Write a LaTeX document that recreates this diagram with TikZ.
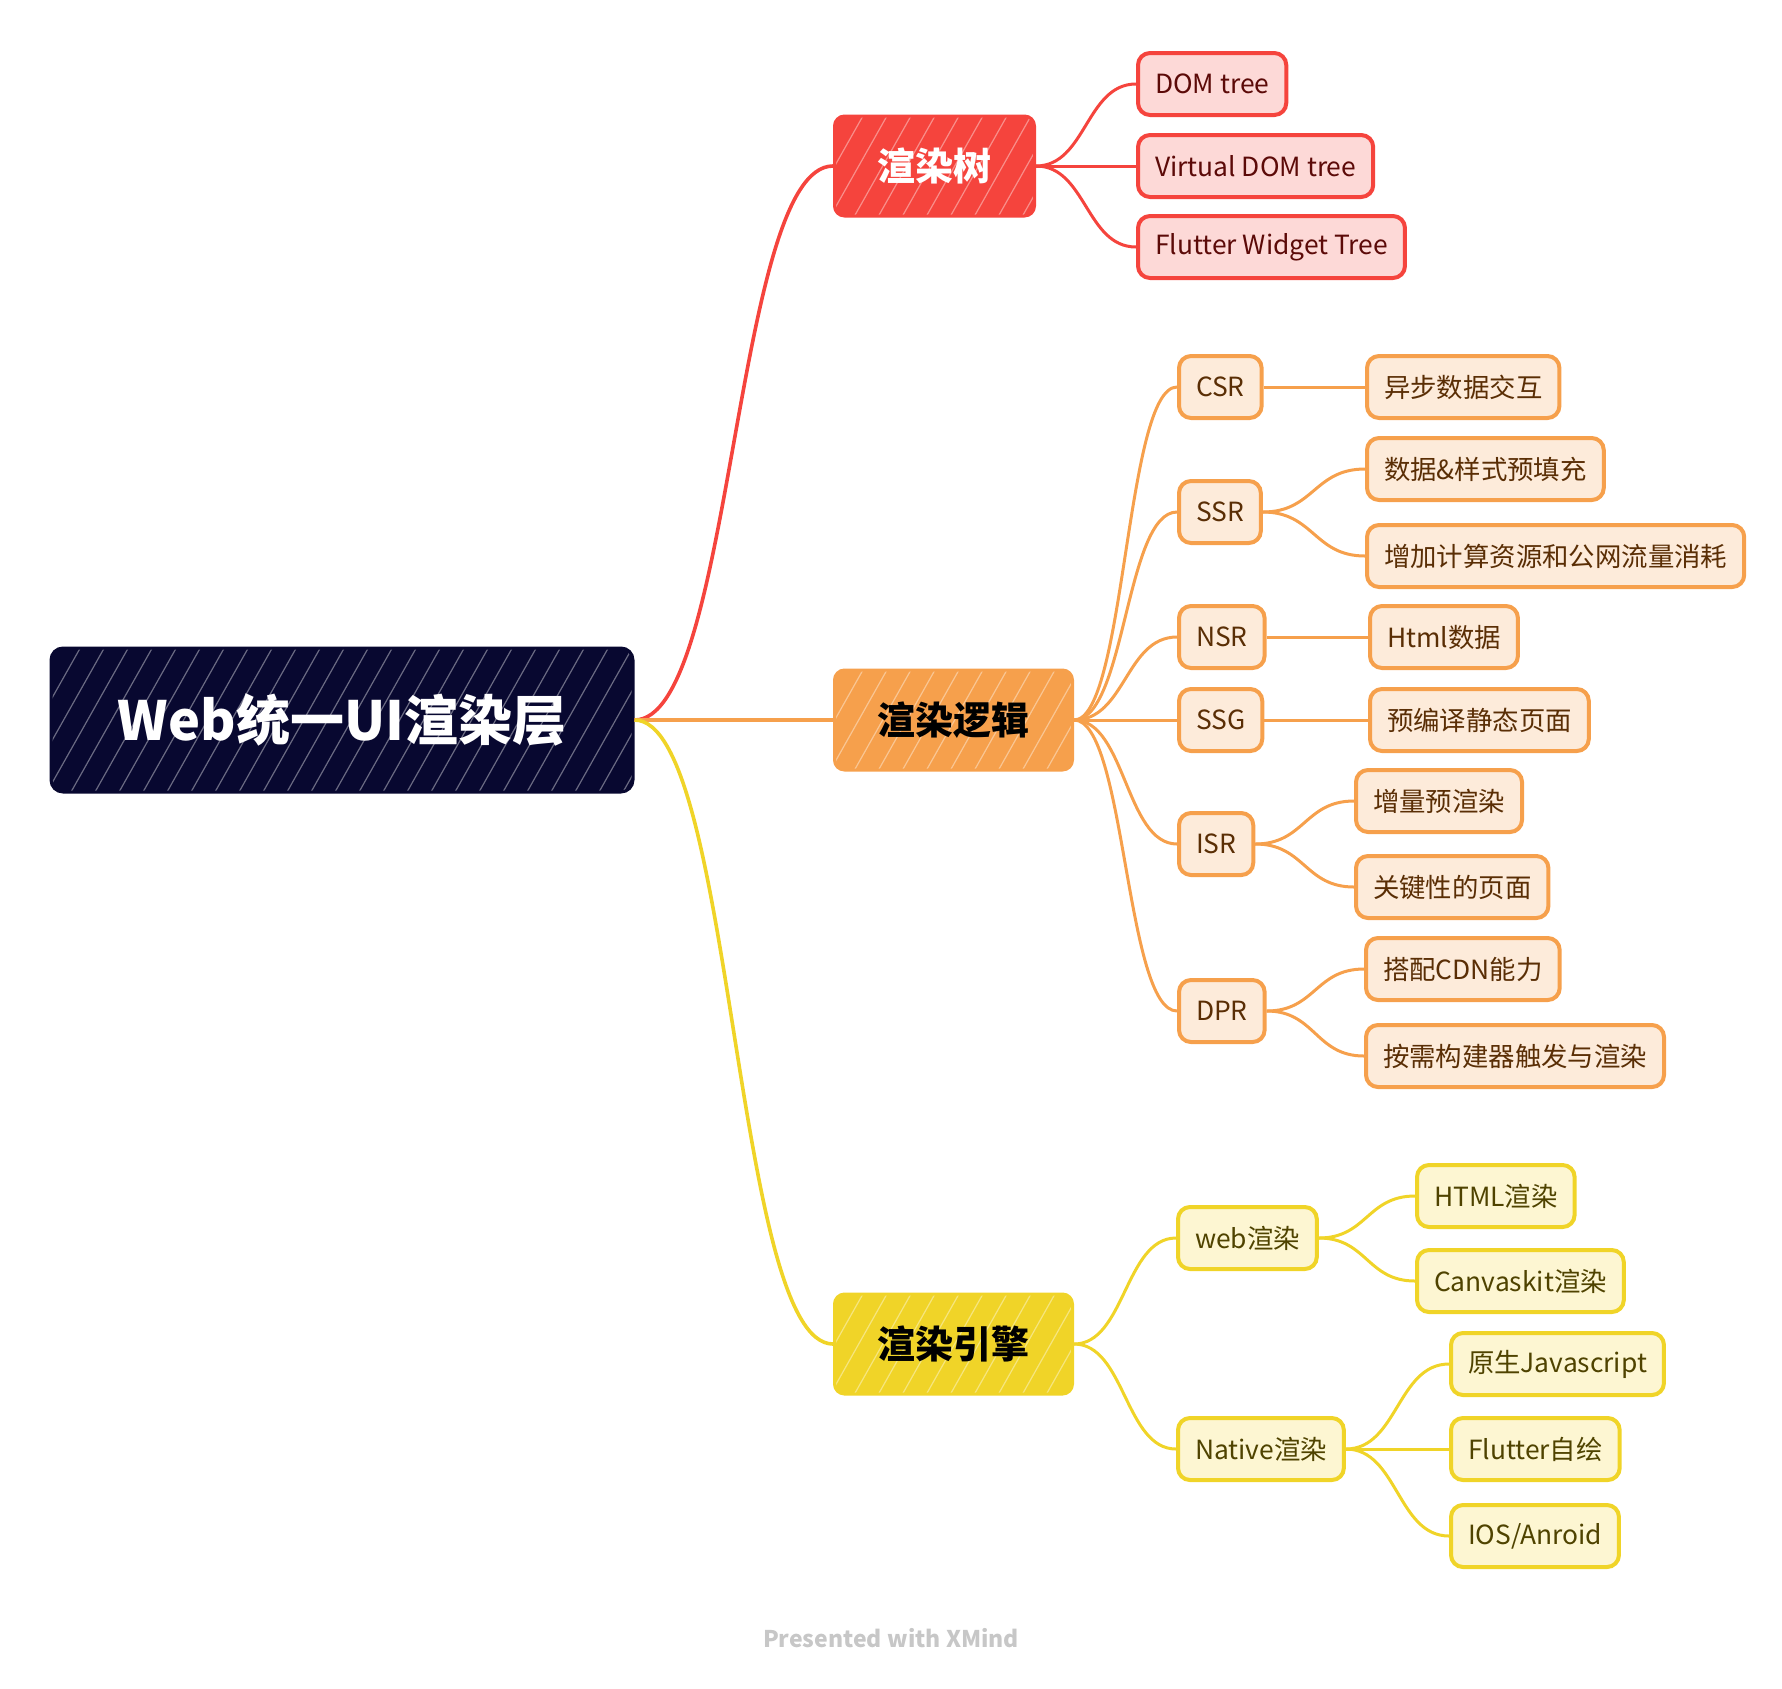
\documentclass[tikz,border=0pt]{standalone}
\usepackage{fontspec}
\setmainfont{Noto Sans CJK SC}
\usepackage{tikz}
\usetikzlibrary{calc}
\definecolor{rootNavy}{HTML}{080830}
\definecolor{treeRed}{HTML}{F5443D}
\definecolor{treeRedLight}{HTML}{FDD9D7}
\definecolor{treeRedDark}{HTML}{5C0A08}
\definecolor{logicOrange}{HTML}{F6A04C}
\definecolor{logicOrangeLight}{HTML}{FDEBDA}
\definecolor{logicOrangeDark}{HTML}{5A2E05}
\definecolor{engineYellow}{HTML}{F0D428}
\definecolor{engineYellowLight}{HTML}{FDF6D2}
\definecolor{engineYellowDark}{HTML}{4F4300}

\begin{document}
\begin{tikzpicture}[x=0.5pt,y=-0.5pt,
  hatch/.style={path picture={\foreach \k in {-50,-38,...,300}
    \draw[white,line width=.6pt,opacity=.4] ([xshift=\k pt]path picture bounding box.south west) -- ++(44pt,78pt);}},
  root/.style={draw=rootNavy,fill=rootNavy,text=white,rounded corners=6pt,line width=1.5pt,hatch,
    minimum width=291pt,minimum height=72pt,font=\fontsize{27}{32}\selectfont\bfseries},
  main/.style={rounded corners=5pt,line width=1.5pt,minimum height=50pt,inner xsep=21.5pt,anchor=west,hatch,
    font=\fontsize{19}{23}\selectfont\bfseries},
  leaf/.style={rounded corners=6pt,line width=2pt,minimum height=31pt,inner xsep=8.5pt,anchor=west,
    font=\fontsize{13.2}{16}\selectfont},
  redleaf/.style={leaf,draw=treeRed,fill=treeRedLight,text=treeRedDark},
  orangeleaf/.style={leaf,draw=logicOrange,fill=logicOrangeLight,text=logicOrangeDark},
  yellowleaf/.style={leaf,draw=engineYellow,fill=engineYellowLight,text=engineYellowDark},
  link/.style={line width=1.5pt,to path={let \p1=(\tikztostart),\p2=(\tikztotarget),\n1={(\x2-\x1)/2} in
    .. controls +(\n1,0) and +(-\n1,0) .. (\tikztotarget)}}]
\useasboundingbox (0,0) rectangle (1782,1688);
\node[root] (web) at (342,720) {Web统一UI渲染层};
\node[main,fill=treeRed,draw=treeRed,text=white] (tree) at (833,166) {渲染树};
\node[main,fill=logicOrange,draw=logicOrange,text=black] (logic) at (833,720) {渲染逻辑};
\node[main,fill=engineYellow,draw=engineYellow,text=black] (engine) at (833,1344) {渲染引擎};
% 渲染树
\node[redleaf] (dom) at (1136,84) {DOM tree};
\node[redleaf] (vdom) at (1136,166) {Virtual DOM tree};
\node[redleaf] (widget) at (1136,247) {Flutter Widget Tree};
% 渲染逻辑
\node[orangeleaf] (csr) at (1177,387) {CSR};
\node[orangeleaf] (ssr) at (1177,512) {SSR};
\node[orangeleaf] (nsr) at (1177,637) {NSR};
\node[orangeleaf] (ssg) at (1177,720) {SSG};
\node[orangeleaf] (isr) at (1177,844) {ISR};
\node[orangeleaf] (dpr) at (1177,1011) {DPR};
\node[orangeleaf] (async) at (1365,387) {异步数据交互};
\node[orangeleaf] (prefill) at (1365,469) {数据\&样式预填充};
\node[orangeleaf] (cost) at (1365,556) {增加计算资源和公网流量消耗};
\node[orangeleaf] (html) at (1368,637) {Html数据};
\node[orangeleaf] (static) at (1368,720) {预编译静态页面};
\node[orangeleaf] (incr) at (1354,801) {增量预渲染};
\node[orangeleaf] (key) at (1354,887) {关键性的页面};
\node[orangeleaf] (cdn) at (1364,969) {搭配CDN能力};
\node[orangeleaf] (builder) at (1364,1056) {按需构建器触发与渲染};
% 渲染引擎
\node[yellowleaf] (webr) at (1176,1238) {web渲染};
\node[yellowleaf] (native) at (1176,1449) {Native渲染};
\node[yellowleaf] (htmlr) at (1415,1196) {HTML渲染};
\node[yellowleaf] (canvas) at (1415,1281) {Canvaskit渲染};
\node[yellowleaf] (js) at (1449,1364) {原生Javascript};
\node[yellowleaf] (self) at (1449,1449) {Flutter自绘};
\node[yellowleaf] (ios) at (1449,1536) {IOS/Anroid};
\draw[link,treeRed,line width=1.8pt] (web.east) to (tree.west);
\draw[link,logicOrange,line width=1.8pt] (web.east) to (logic.west);
\draw[link,engineYellow,line width=1.8pt] (web.east) to (engine.west);
\foreach \c in {dom,vdom,widget} \draw[link,treeRed] (tree.east) to (\c.west);
\foreach \c in {csr,ssr,nsr,ssg,isr,dpr} \draw[link,logicOrange] (logic.east) to (\c.west);
\draw[link,logicOrange] (csr.east) to (async.west);
\draw[link,logicOrange] (ssr.east) to (prefill.west); \draw[link,logicOrange] (ssr.east) to (cost.west);
\draw[link,logicOrange] (nsr.east) to (html.west); \draw[link,logicOrange] (ssg.east) to (static.west);
\draw[link,logicOrange] (isr.east) to (incr.west); \draw[link,logicOrange] (isr.east) to (key.west);
\draw[link,logicOrange] (dpr.east) to (cdn.west); \draw[link,logicOrange] (dpr.east) to (builder.west);
\draw[link,engineYellow] (engine.east) to (webr.west); \draw[link,engineYellow] (engine.east) to (native.west);
\draw[link,engineYellow] (webr.east) to (htmlr.west); \draw[link,engineYellow] (webr.east) to (canvas.west);
\foreach \c in {js,self,ios} \draw[link,engineYellow] (native.east) to (\c.west);
\node[text=black!22,font=\fontsize{11.5}{14}\selectfont\bfseries] (credit) at (891,1638) {Presented with XMind};
\end{tikzpicture}
\end{document}
